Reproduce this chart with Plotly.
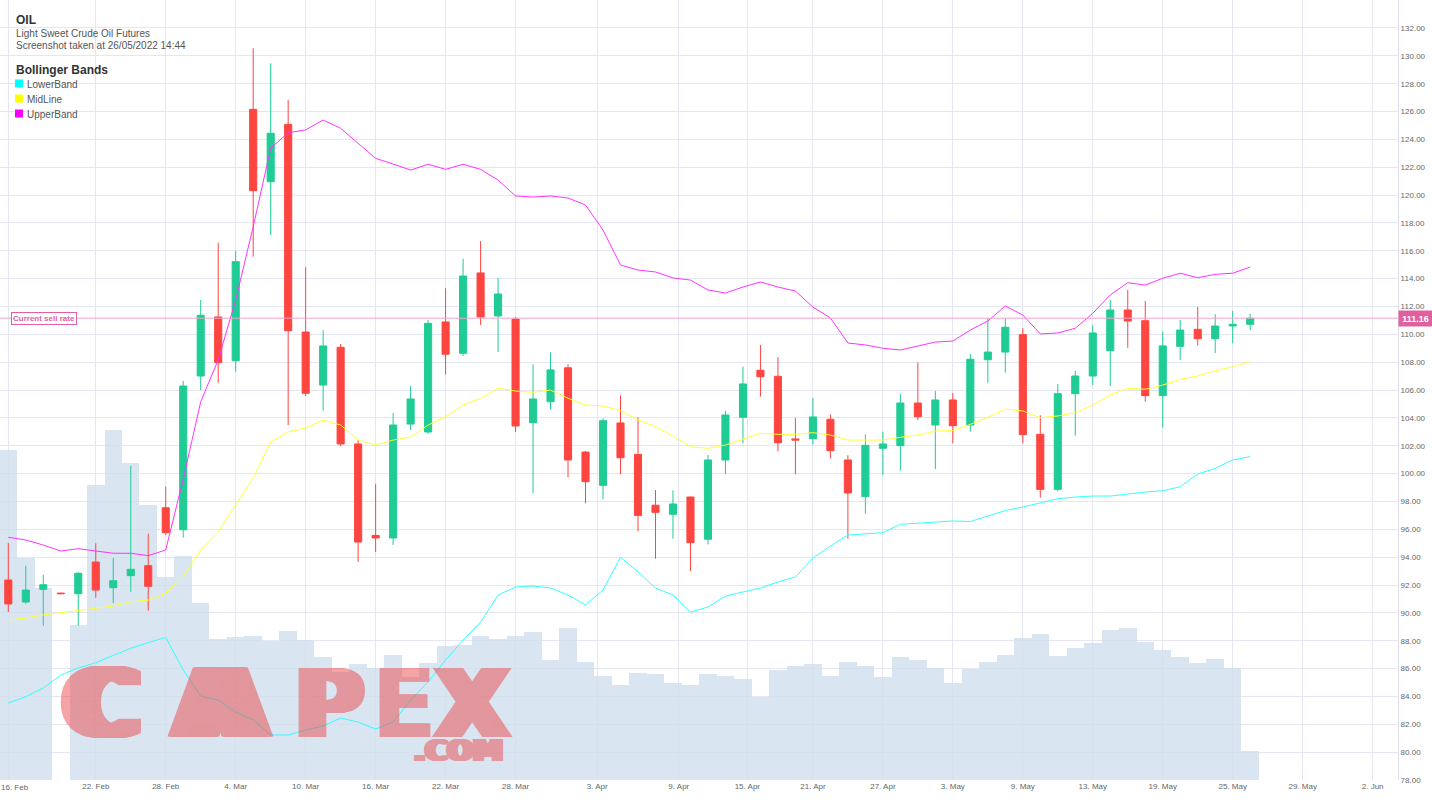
import numpy as np
import pandas as pd
import plotly.graph_objects as go

# ---------------- data ----------------
dates = [
    "2022-02-16", "2022-02-17", "2022-02-18", "2022-02-20", "2022-02-21", "2022-02-22", "2022-02-23", "2022-02-24",
    "2022-02-25", "2022-02-28", "2022-03-01", "2022-03-02", "2022-03-03", "2022-03-04", "2022-03-07", "2022-03-08",
    "2022-03-09", "2022-03-10", "2022-03-11", "2022-03-14", "2022-03-15", "2022-03-16", "2022-03-17", "2022-03-18",
    "2022-03-21", "2022-03-22", "2022-03-23", "2022-03-24", "2022-03-25", "2022-03-28", "2022-03-29", "2022-03-30",
    "2022-03-31", "2022-04-01", "2022-04-04", "2022-04-05", "2022-04-06", "2022-04-07", "2022-04-08", "2022-04-11",
    "2022-04-12", "2022-04-13", "2022-04-14", "2022-04-18", "2022-04-19", "2022-04-20", "2022-04-21", "2022-04-22",
    "2022-04-25", "2022-04-26", "2022-04-27", "2022-04-28", "2022-04-29", "2022-05-02", "2022-05-03", "2022-05-04",
    "2022-05-05", "2022-05-06", "2022-05-09", "2022-05-10", "2022-05-11", "2022-05-12", "2022-05-13", "2022-05-16",
    "2022-05-17", "2022-05-18", "2022-05-19", "2022-05-20", "2022-05-23", "2022-05-24", "2022-05-25", "2022-05-26",
]

open_ = [92.36, 90.78, 91.69, 91.42, 91.38, 93.65, 91.81, 92.67, 93.39, 97.55,
         95.97, 107.01, 111.25, 108.11, 126.16, 120.96, 125.08, 110.17, 106.36, 109.07,
         102.13, 95.56, 95.38, 103.56, 102.99, 110.89, 108.64, 114.41, 111.32, 111.10,
         103.66, 105.16, 107.60, 101.55, 99.16, 103.64, 101.38, 97.73, 97.08, 98.32,
         95.29, 100.98, 104.04, 107.42, 106.99, 102.49, 102.51, 103.90, 100.98, 98.35,
         101.82, 102.01, 105.07, 103.49, 105.29, 103.49, 108.18, 108.73, 109.98, 102.82,
         98.87, 105.74, 107.01, 108.83, 111.75, 110.98, 105.60, 109.14, 110.36, 109.69,
         110.60, 110.72]
high = [95.02, 93.39, 92.72, 91.45, 92.94, 95.00, 93.94, 100.55, 95.69, 99.07,
        106.65, 112.47, 116.58, 116.01, 130.54, 129.46, 126.83, 114.82, 110.31, 109.31,
        102.41, 99.26, 104.35, 106.29, 111.03, 113.31, 115.43, 116.70, 114.05, 111.25,
        107.85, 108.70, 107.85, 101.62, 103.97, 105.62, 104.04, 98.82, 98.80, 98.35,
        101.34, 104.52, 107.68, 109.24, 108.37, 103.99, 105.43, 104.26, 101.32, 102.82,
        103.01, 105.72, 107.99, 105.93, 105.79, 108.59, 111.18, 111.15, 110.44, 104.19,
        106.44, 107.37, 110.67, 112.47, 113.19, 112.40, 110.19, 111.03, 111.97, 111.44,
        111.68, 111.46]
low = [90.06, 90.66, 89.08, 91.35, 89.08, 91.09, 90.71, 91.52, 90.16, 95.60,
       95.40, 106.00, 106.53, 107.32, 115.58, 117.14, 103.49, 105.57, 104.52, 101.98,
       93.65, 94.37, 94.88, 103.13, 102.85, 107.13, 108.45, 110.67, 108.73, 102.99,
       98.59, 104.62, 99.74, 97.87, 98.16, 99.96, 95.86, 93.89, 95.33, 92.99,
       94.92, 99.96, 102.18, 105.53, 101.60, 99.96, 102.08, 101.10, 95.33, 97.12,
       99.88, 100.22, 103.85, 100.32, 102.18, 103.01, 106.53, 107.25, 102.18, 98.27,
       98.73, 102.73, 106.36, 106.29, 109.04, 105.17, 103.30, 108.16, 109.19, 108.66,
       109.36, 110.31]
close = [90.64, 91.64, 92.02, 91.38, 92.84, 91.64, 92.31, 93.13, 91.91, 95.76,
         106.29, 111.37, 107.97, 115.22, 120.32, 124.44, 110.26, 105.77, 109.17, 102.13,
         95.09, 95.38, 103.49, 105.36, 110.79, 108.57, 114.19, 111.25, 112.90, 103.42,
         105.36, 107.45, 100.98, 99.42, 103.80, 101.14, 97.00, 97.22, 97.82, 95.04,
         100.98, 104.21, 106.44, 106.96, 102.22, 102.41, 104.07, 101.65, 98.61, 102.03,
         102.13, 105.07, 104.09, 105.29, 103.44, 108.21, 108.73, 110.51, 102.80, 98.87,
         105.74, 107.01, 110.10, 111.75, 110.96, 105.60, 109.17, 110.31, 109.69, 110.60,
         110.72, 111.16]

# volume in thousands of contracts
volume_k = [330, 222, 192, 0, 155, 295, 350, 317, 275, 203,
            224, 177, 141, 143, 144, 139, 149, 140, 123, 108,
            116, 112, 125, 103, 117, 134, 135, 144, 141, 144,
            148, 120, 152, 118, 104, 95, 107, 106, 97, 95,
            106, 104, 101, 83, 110, 114, 116, 104, 118, 114,
            103, 123, 120, 112, 97, 111, 118, 125, 142, 146,
            124, 132, 137, 150, 152, 138, 130, 123, 117, 121,
            112, 29]

upper_band = [95.43, 95.23, 94.87, 94.44, 94.61, 94.44, 94.28, 94.28, 94.11, 94.52,
              99.61, 105.16, 108.16, 112.47, 117.73, 123.36, 124.48, 124.68, 125.39, 124.80,
              123.72, 122.64, 122.23, 121.80, 122.21, 121.85, 122.21, 121.85, 121.08, 119.94,
              119.86, 119.94, 119.79, 119.29, 117.49, 114.98, 114.62, 114.48, 114.05, 113.90,
              113.19, 112.97, 113.40, 113.76, 113.40, 113.11, 111.96, 111.18, 109.38, 109.24,
              109.00, 108.88, 109.16, 109.45, 109.52, 110.31, 110.96, 112.04, 111.39, 110.03,
              110.10, 110.44, 111.51, 112.83, 113.71, 113.54, 114.03, 114.39, 114.07, 114.31,
              114.39, 114.84]
mid_line = [89.49, 89.63, 89.85, 90.01, 90.16, 90.33, 90.49, 90.80, 90.92, 91.41,
            92.60, 94.52, 95.81, 97.75, 99.69, 102.27, 102.99, 103.28, 103.85, 103.49,
            102.41, 102.05, 102.41, 102.63, 103.49, 104.07, 104.93, 105.41, 106.13, 105.93,
            105.84, 106.00, 105.41, 104.93, 104.86, 104.52, 103.85, 103.37, 102.70, 101.93,
            101.82, 102.05, 102.46, 102.90, 102.82, 102.82, 102.94, 102.77, 102.41, 102.41,
            102.41, 102.61, 102.77, 103.06, 103.08, 103.54, 104.04, 104.64, 104.50, 104.02,
            104.14, 104.37, 104.93, 105.65, 106.13, 106.06, 106.36, 106.77, 107.01, 107.39,
            107.68, 108.04]
lower_band = [83.53, 83.98, 84.61, 85.54, 86.04, 86.42, 86.95, 87.46, 87.86, 88.25,
              85.90, 84.03, 83.74, 82.88, 82.31, 81.23, 81.23, 81.59, 81.88, 82.45,
              82.16, 81.66, 82.16, 83.74, 85.04, 86.62, 88.05, 89.34, 91.28, 91.86,
              91.93, 91.79, 91.28, 90.57, 91.64, 93.99, 92.94, 91.79, 91.28, 90.06,
              90.42, 91.21, 91.50, 91.79, 92.22, 92.58, 93.94, 94.80, 95.59, 95.66,
              95.76, 96.36, 96.45, 96.56, 96.60, 96.56, 96.96, 97.35, 97.60, 97.91,
              98.20, 98.32, 98.39, 98.39, 98.54, 98.68, 98.77, 99.06, 99.97, 100.38,
              100.98, 101.22]

tick_dates = ["2022-02-16", "2022-02-22", "2022-02-28", "2022-03-04", "2022-03-10", "2022-03-16",
              "2022-03-22", "2022-03-28", "2022-04-03", "2022-04-09", "2022-04-15", "2022-04-21",
              "2022-04-27", "2022-05-03", "2022-05-09", "2022-05-13", "2022-05-19", "2022-05-25",
              "2022-05-29", "2022-06-02"]
tick_labels = ["16. Feb", "22. Feb", "28. Feb", "4. Mar", "10. Mar", "16. Mar", "22. Mar", "28. Mar",
               "3. Apr", "9. Apr", "15. Apr", "21. Apr", "27. Apr", "3. May", "9. May", "13. May",
               "19. May", "25. May", "29. May", "2. Jun"]
price_ticks = list(range(78, 133, 2))
current_sell_rate = 111.16

# ---------------- ordinal x axis (like Highstock) ----------------
d_ord = pd.to_datetime(pd.Series(dates)).map(pd.Timestamp.toordinal).to_numpy(dtype=float)
idx = np.arange(len(dates), dtype=float)


def date_pos(ds):
    o = pd.Timestamp(ds).toordinal()
    if o > d_ord[-1]:
        return idx[-1] + (o - d_ord[-1])
    return float(np.interp(o, d_ord, idx))


tick_pos = [date_pos(d) for d in tick_dates]

# ---------------- figure ----------------
W, H = 1432, 805
PL, PR, PT, PB = 0, 34, 0, 25
PW, PH = W - PL - PR, H - PT - PB

GREEN = "#1fcc95"
RED = "#ff4540"
GRID = "#e6e5f2"
PINK = "#e0609f"
FONT = "Arial"
WM = "#ec4a4c"


def px(x):
    return x / PW


def py(y):
    return 1 - y / PH


fig = go.Figure()

# volume (background, base y axis)
fig.add_trace(go.Bar(
    x=idx, y=volume_k, width=1.0, yaxis="y",
    marker=dict(color="rgba(207,222,236,0.8)", line=dict(width=0)),
    hoverinfo="skip", showlegend=False,
))

# candles
fig.add_trace(go.Candlestick(
    x=idx, open=open_, high=high, low=low, close=close, yaxis="y2",
    increasing=dict(line=dict(color=GREEN, width=1), fillcolor=GREEN),
    decreasing=dict(line=dict(color=RED, width=1), fillcolor=RED),
    whiskerwidth=0, showlegend=False, name="OIL",
))

# bollinger bands
for vals, col, nm in [(upper_band, "#ff33ff", "UpperBand"),
                      (mid_line, "#ffff33", "MidLine"),
                      (lower_band, "#33ffff", "LowerBand")]:
    fig.add_trace(go.Scatter(x=idx, y=vals, yaxis="y2", mode="lines", name=nm,
                             line=dict(color=col, width=1), showlegend=False))

shapes = [
    dict(type="line", xref="paper", yref="y2", x0=0, x1=1, y0=current_sell_rate, y1=current_sell_rate,
         line=dict(color="#f3a3c8", width=1), layer="above"),
]
for i, col in enumerate(["#00ffff", "#ffff00", "#ff00ff"]):
    yc = 83.5 + 15 * i
    shapes.append(dict(type="rect", xref="paper", yref="paper",
                       x0=px(15), x1=px(23), y0=py(yc - 4), y1=py(yc + 4),
                       fillcolor=col, line=dict(width=0), layer="above"))

annotations = []


def txt(x, y, s, size, color, weight="normal"):
    annotations.append(dict(xref="paper", yref="paper", x=px(x), y=py(y), text=s, showarrow=False,
                            xanchor="left", yanchor="middle",
                            font=dict(family=FONT, size=size, color=color, weight=weight)))


txt(14, 19.5, "OIL", 12, "#333333", "bold")
txt(14, 33.5, "Light Sweet Crude Oil Futures", 10, "#555555")
txt(14, 45.5, "Screenshot taken at 26/05/2022 14:44", 10, "#555555")
txt(14, 70, "Bollinger Bands", 12, "#333333", "bold")
txt(25, 84, "LowerBand", 10, "#555555")
txt(25, 99, "MidLine", 10, "#555555")
txt(25, 114, "UpperBand", 10, "#555555")

# first x tick label (pushed inside the chart, as the original does)
annotations.append(dict(xref="paper", yref="paper", x=0, y=py(787), text=tick_labels[0], showarrow=False,
                        xanchor="left", yanchor="middle", xshift=-1,
                        font=dict(family=FONT, size=8, color="#666666")))


# watermark (letters widened with a horizontal smear)
def smear(n, col):
    return ", ".join(f"{k}px 0 0 {col}" for k in range(1, n + 1)) if n > 0 else "none"


for ch, xc, sm in [("C", 101, 22), ("A", 220, 34), ("P", 329, 10), ("E", 404, 2), ("X", 472, 12)]:
    annotations.append(dict(xref="paper", yref="paper", x=px(xc - sm / 2), y=py(704), text=ch,
                            showarrow=False, xanchor="center", yanchor="middle", opacity=0.5,
                            font=dict(family="DejaVu Sans", size=94, color=WM, weight="bold",
                                      shadow=smear(sm, WM))))
annotations.append(dict(xref="paper", yref="paper", x=px(455), y=py(750), text=".COM", showarrow=False,
                        xanchor="center", yanchor="middle", opacity=0.5,
                        font=dict(family="DejaVu Sans", size=30, color=WM, weight="bold",
                                  shadow=smear(6, WM))))

# current sell rate labels
annotations.append(dict(xref="paper", yref="y2", x=px(11), y=current_sell_rate, text="Current sell rate",
                        showarrow=False, xanchor="left", yanchor="middle",
                        font=dict(family=FONT, size=8, color=PINK, weight="bold"),
                        bgcolor="white", bordercolor=PINK, borderwidth=1, borderpad=1))
annotations.append(dict(xref="paper", yref="y2", x=1.0, y=current_sell_rate, text=f"{current_sell_rate:.2f}",
                        showarrow=False, xanchor="left", yanchor="middle", width=31, height=13,
                        font=dict(family=FONT, size=9, color="white", weight="bold"),
                        bgcolor=PINK, borderpad=1))

fig.update_layout(
    width=W, height=H,
    margin=dict(l=PL, r=PR, t=PT, b=PB, pad=0),
    paper_bgcolor="white", plot_bgcolor="white",
    showlegend=False,
    bargap=0, boxgap=0.42,
    xaxis=dict(range=[-0.475, 79.45], tickmode="array", tickvals=tick_pos,
               ticktext=[""] + tick_labels[1:],
               showgrid=True, gridcolor=GRID, gridwidth=1, zeroline=False, showline=False,
               ticks="", tickfont=dict(family=FONT, size=8, color="#666666"),
               rangeslider=dict(visible=False)),
    yaxis=dict(range=[0, 780], visible=False, showgrid=False, zeroline=False, fixedrange=True),
    yaxis2=dict(range=[78, 134.01], overlaying="y", side="right", tickmode="array", tickvals=price_ticks,
                tickformat=".2f", showgrid=True, gridcolor=GRID, gridwidth=1, zeroline=False,
                showline=True, linecolor="#dedcf0", ticks="",
                tickfont=dict(family=FONT, size=8, color="#666666")),
    shapes=shapes,
    annotations=annotations,
)

fig.write_html("out.html", config={"displayModeBar": False},
               post_script="document.body.style.margin='0px';document.body.style.overflow='hidden';")
